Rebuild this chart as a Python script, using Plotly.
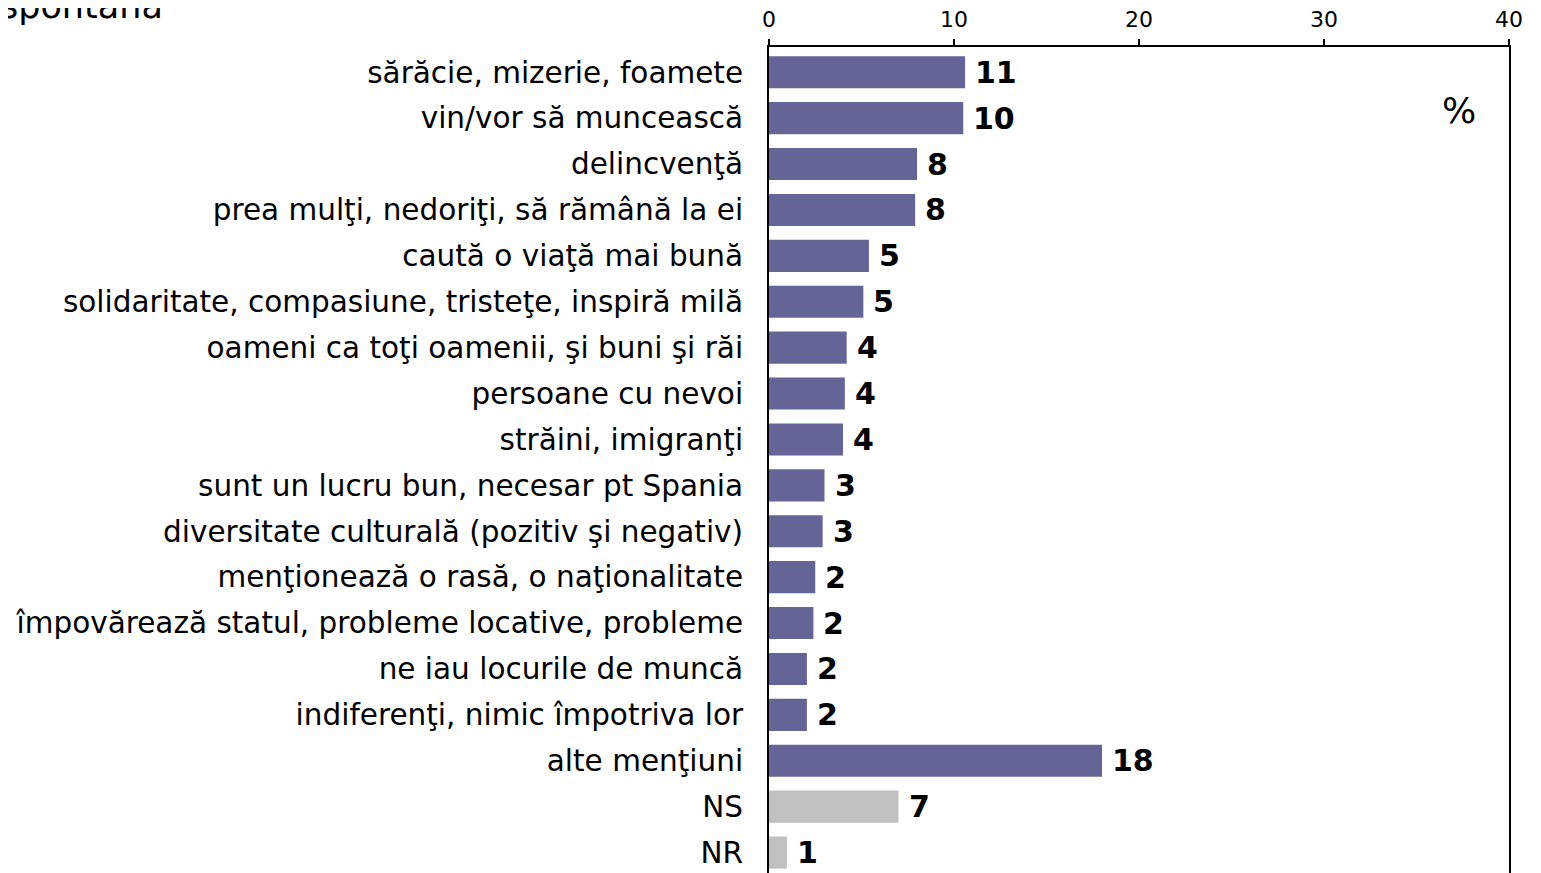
import plotly.graph_objects as go

categories = [
    "sărăcie, mizerie, foamete",
    "vin/vor să muncească",
    "delincvenţă",
    "prea mulţi, nedoriţi, să rămână la ei",
    "caută o viaţă mai bună",
    "solidaritate, compasiune, tristeţe, inspiră milă",
    "oameni ca toţi oamenii, şi buni şi răi",
    "persoane cu nevoi",
    "străini, imigranţi",
    "sunt un lucru bun, necesar pt Spania",
    "diversitate culturală (pozitiv şi negativ)",
    "menţionează o rasă, o naţionalitate",
    "împovărează statul, probleme locative, probleme",
    "ne iau locurile de muncă",
    "indiferenţi, nimic împotriva lor",
    "alte menţiuni",
    "NS",
    "NR",
]
values = [10.6, 10.5, 8.0, 7.9, 5.4, 5.1, 4.2, 4.1, 4.0, 3.0, 2.9, 2.5, 2.4, 2.05, 2.05, 18.0, 7.0, 0.97]
value_labels = ["11", "10", "8", "8", "5", "5", "4", "4", "4", "3", "3", "2", "2", "2", "2", "18", "7", "1"]
bar_groups = ["main"] * 16 + ["other"] * 2
x_ticks = [0, 10, 20, 30, 40]

color_map = {"main": "#646496", "other": "#c0c0c0"}
colors = [color_map[g] for g in bar_groups]

FONT = "DejaVu Sans"

fig = go.Figure()
fig.add_trace(go.Bar(
    y=categories,
    x=values,
    orientation="h",
    marker=dict(color=colors, line=dict(width=0)),
    width=0.7,
    showlegend=False,
    hoverinfo="skip",
))

for cat, v, lab in zip(categories, values, value_labels):
    fig.add_annotation(
        x=v, y=cat, xref="x", yref="y",
        text="<b>" + lab + "</b>",
        showarrow=False, xanchor="left", yanchor="middle",
        xshift=8,
        font=dict(family=FONT, size=30, color="black"),
    )

# "%" marker inside the plot, near the right border
fig.add_annotation(
    x=37.3, xref="x", y=0.83, yref="y",
    text="%", showarrow=False, xanchor="center", yanchor="middle",
    font=dict(family=FONT, size=36, color="black"),
)

# partially visible title at the top-left corner (cut off in the original)
fig.add_annotation(
    x=0, xref="paper", y=1, yref="paper",
    text="spontană", showarrow=False, xanchor="left", yanchor="bottom",
    xshift=-771, yshift=19,
    font=dict(family=FONT, size=35, color="black"),
)

fig.update_layout(
    width=1541, height=873,
    margin=dict(l=761, r=40, t=39, b=0, pad=0),
    paper_bgcolor="white", plot_bgcolor="white",
    font=dict(family=FONT, color="black"),
    bargap=0.3,
)
fig.update_xaxes(
    side="top", range=[0, 40], tickvals=x_ticks,
    ticks="outside", ticklen=6, tickwidth=2, tickcolor="black",
    ticklabelstandoff=3,
    showline=True, linecolor="black", linewidth=2, mirror=False,
    showgrid=False, zeroline=False, automargin=False,
    tickfont=dict(family=FONT, size=22, color="black"),
    fixedrange=True,
)
fig.update_yaxes(
    categoryorder="array", categoryarray=categories,
    range=[17.62, -0.55],
    showline=True, linecolor="black", linewidth=2, mirror=True,
    ticks="", showgrid=False, zeroline=False, automargin=False,
    ticklabelstandoff=18,
    tickfont=dict(family=FONT, size=29.5, color="black"),
    fixedrange=True,
)

fig.write_html("out.html")
